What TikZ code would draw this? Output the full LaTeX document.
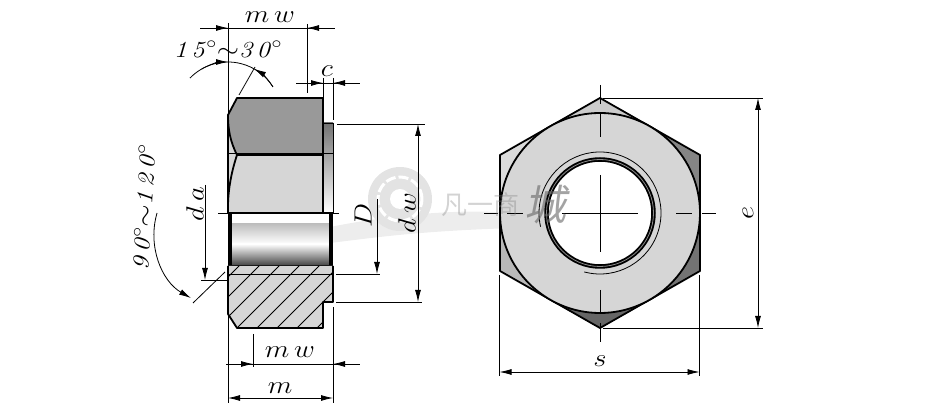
\documentclass[tikz,border=0pt]{standalone}
\usepackage{fontspec}
\newfontfamily\wmfont{Noto Sans CJK SC}
\usetikzlibrary{arrows.meta}
\definecolor{nutlight}{gray}{0.84}
\definecolor{nutdark}{gray}{0.6}
\definecolor{wmgray}{gray}{0.89}
\tikzset{
  outline/.style={line width=1.8pt, line join=round},
  dimline/.style={line width=0.8pt},
  dimarrow/.style={dimline, -{Latex[length=12pt,width=6pt]}},
  dimlabel/.style={font=\fontsize{23}{23}\selectfont\itshape, inner sep=0pt, xscale=1.15}
}
\begin{document}
\begin{tikzpicture}[x=1pt,y=1pt]
\useasboundingbox (0,0) rectangle (948,409);

% Watermark behind the drawing
\fill[black!7] (330,166) .. controls (380,172) and (430,180) .. (560,182)
  .. controls (530,205) and (420,200) .. (330,182) -- cycle;
\fill[wmgray] (400,210) circle (32);
\draw[white, line width=3pt, dash pattern=on 10pt off 3pt] (400,210) circle (22);
\fill[white] (400,210) circle (10);

% Side view: upper flank and washer face
\shade[top color=black!55, bottom color=white] (323,286) rectangle (333,196);
\fill[nutlight] (228,254) rectangle (323,196);
\fill[nutlight] (228,294) -- (237,311) -- (237,254) -- (228,254) -- cycle;
\fill[nutdark] (237,311) -- (323,311) -- (323,254) -- (237,254)
  .. controls (230,268) and (228,280) .. (228,294) -- cycle;
\draw[outline] (228,196) -- (228,294) -- (237,311) -- (323,311) -- (323,196);
\draw[outline] (228,294) .. controls (228,280) and (230,268) .. (237,254) -- (323,254);
\draw[outline] (237,254) .. controls (231,236) and (228,218) .. (228,202);
\draw[dimline] (323,286) -- (333,286) -- (333,196);
\draw[dimline] (228,256) -- (333,256);

% Side view: bore
\fill[white] (230,196) rectangle (331,143);
\shade[top color=black!25, bottom color=white] (230,185) rectangle (331,165);
\shade[top color=white, bottom color=black!75] (230,165) rectangle (331,143);
\draw[line width=3.5pt] (230,196) -- (230,143);
\draw[line width=3.5pt] (331,196) -- (331,143);
\draw[outline] (228,196) -- (333,196);
\draw[outline] (228,143) -- (333,143);

% Side view: section
\fill[nutlight] (228,143) -- (333,143) -- (333,107) -- (323,107) -- (323,81)
  -- (237,81) -- (228,95) -- cycle;
\begin{scope}
\clip (228,143) -- (333,143) -- (333,107) -- (323,107) -- (323,81)
  -- (237,81) -- (228,95) -- cycle;
\foreach \s in {505,525,...,645}
  \draw[dimline] (\s-340,69) -- (\s-260,149);
\end{scope}
\draw[dimline] (228,135) -- (333,135);
\draw[outline] (228,143) -- (228,95) -- (237,81) -- (323,81) -- (323,107)
  -- (333,107) -- (333,143);
\draw[dimline] (218,196) -- (339,196);

% Front view: hexagon with shaded corners
\foreach \a/\g in {90/20,30/48,-30/55,-90/60,-150/28,150/14}
  \fill[black!\g] (600,196) -- +(\a-30:100) -- +(\a:115.5) -- +(\a+30:100) -- cycle;
\draw[outline] (600,311) -- (700,254) -- (700,138) -- (600,81) -- (500,138) -- (500,254) -- cycle;
\fill[nutlight, draw=black, line width=1.8pt] (600,196) circle (100);
\draw[dimline] (600,196) ++(-105:61) arc (-105:193:61);
\fill[white, draw=black, line width=4.5pt] (600,196) circle (53.5);
\draw[black!45, line width=0.8pt] (600,196) circle (53.5);

% Front view: centre lines
\foreach \p/\q in {484/498,507/523,562/638,676/692,702/716}
  \draw[dimline] (\p,196) -- (\q,196);
\foreach \p/\q in {85/104,113/137,175/252,290/314,323/342}
  \draw[dimline] (600,409-\p) -- (600,409-\q);

% Dimension mw on top
\draw[dimline] (228,386) -- (228,294);
\draw[dimline] (307,385) -- (307,316);
\draw[dimline] (200,381) -- (335,381);
\draw[dimarrow] (213,381) -- (228,381);
\draw[dimarrow] (322,381) -- (307,381);
\node[dimlabel] (mwtop) at (270,392) {$m\,w$};

% Dimension c
\draw[dimline] (323,331) -- (323,311);
\draw[dimline] (333,331) -- (333,289);
\draw[dimline] (296,326) -- (360,326);
\draw[dimarrow] (308,326) -- (323,326);
\draw[dimarrow] (348,326) -- (333,326);
\node[dimlabel] (clabel) at (327,338) {$c$};

% Chamfer angle
\draw[dimline] (239,314) -- (255,342);
\draw[dimline] (228,294) ++(135.8:53) arc (135.8:32:53);
\draw[dimarrow] (228,294) ++(120:53) arc (120:90:53);
\draw[dimarrow] (228,294) ++(32:53) arc (32:60.6:53);
\node[dimlabel] (anglea) at (228,360) {1\,5\kern1.5pt$^\circ$$\sim$3\,0\kern1.5pt$^\circ$};

% Countersink angle
\draw[dimline] (193,106) -- (225,137);
\draw[dimarrow] (228,175) ++(163.5:74) arc (163.5:240:74);
\node[rotate=87, dimlabel] (angleb) at (144,202) {9\,0\kern1.5pt$^\circ$$\sim$1\,2\,0\kern1.5pt$^\circ$};

% Dimension da
\draw[dimline] (201,129) -- (228,129);
\draw[dimarrow] (205,224) -- (205,129);
\node[rotate=90, dimlabel] (dalabel) at (195,205) {$d\,a$};

% Dimension D
\draw[dimline] (336,135) -- (380,135);
\draw[dimarrow] (377,210) -- (377,135);
\node[rotate=90, dimlabel] (Dlabel) at (363,194) {$D$};

% Dimension dw
\draw[dimline] (337,285) -- (425,285);
\draw[dimline] (336,107) -- (422,107);
\draw[dimarrow] (418,196) -- (418,285);
\draw[dimarrow] (418,196) -- (418,107);
\node[rotate=90, dimlabel] (dwlabel) at (407,196) {$d\,w$};

% Dimensions below
\draw[dimline] (228,95) -- (228,6);
\draw[dimline] (333,102) -- (333,6);
\draw[dimline] (253,75) -- (253,42);
\draw[dimline] (226,45) -- (360,45);
\draw[dimarrow] (238,45) -- (253,45);
\draw[dimarrow] (348,45) -- (333,45);
\node[dimlabel] (mwlow) at (290,57) {$m\,w$};
\draw[dimarrow] (280,11) -- (228,11);
\draw[dimarrow] (280,11) -- (333,11);
\node[dimlabel] (mlabel) at (280,21) {$m$};

% Dimension e
\draw[dimline] (603,311) -- (763,311);
\draw[dimline] (603,81) -- (763,81);
\draw[dimarrow] (758,196) -- (758,311);
\draw[dimarrow] (758,196) -- (758,81);
\node[rotate=90, dimlabel] (elabel) at (748,196) {$e$};

% Dimension s
\draw[dimline] (499.5,134) -- (499.5,33);
\draw[dimline] (699.5,134) -- (699.5,33);
\draw[dimarrow] (600,37) -- (499.5,37);
\draw[dimarrow] (600,37) -- (699.5,37);
\node[dimlabel] (slabel) at (600,48) {$s$};

% Watermark text over the drawing
\node[font=\wmfont\fontsize{26}{26}\selectfont, text=black!50, opacity=0.35, inner sep=0pt] (wmtext) at (480,204) {凡一商};
\node[font=\wmfont\fontsize{42}{42}\selectfont, text=black!60, opacity=0.6, xslant=0.2, inner sep=0pt] (wmcity) at (549,204) {城};
\end{tikzpicture}
\end{document}
